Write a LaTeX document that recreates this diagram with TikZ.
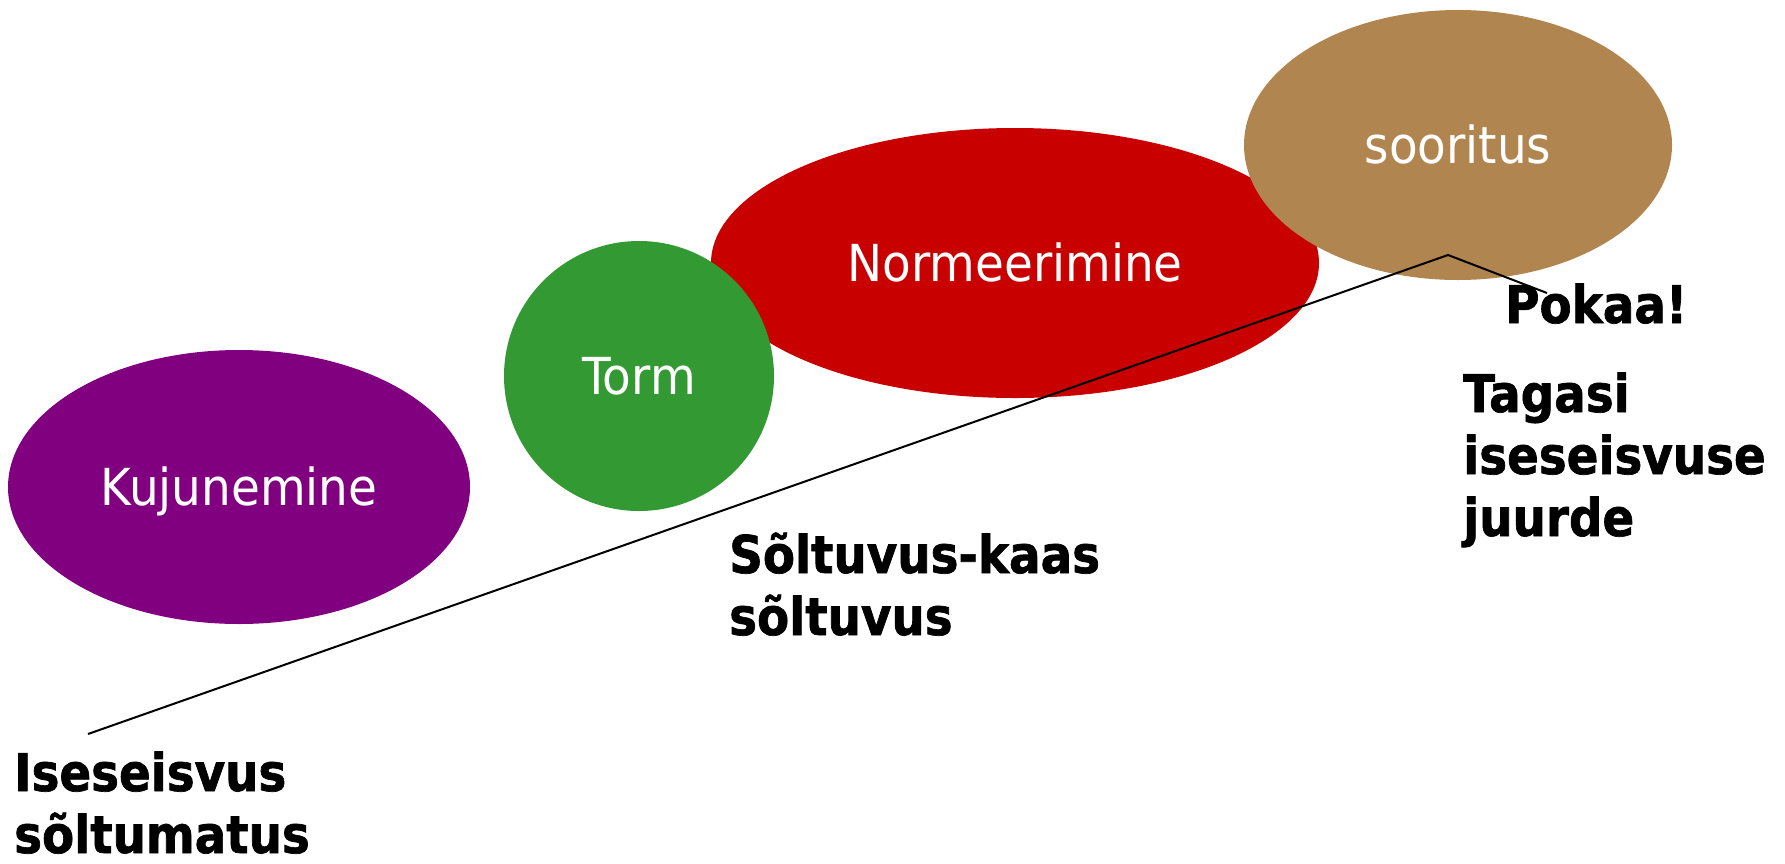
\documentclass[tikz,border=0pt]{standalone}
\usepackage{fontspec}
\usetikzlibrary{shapes.geometric}
\newfontfamily\blobfont[FakeStretch=0.92]{DejaVu Sans}
\newfontfamily\lblfont[FakeStretch=0.9, BoldFeatures={FakeBold=1.3}]{DejaVu Sans}
\definecolor{cpurple}{HTML}{800080}
\definecolor{cgreen}{HTML}{339933}
\definecolor{cred}{HTML}{C80000}
\definecolor{ctan}{HTML}{B08550}
\newcommand{\stacklines}[1]{\vtop{#1}}
\tikzset{
  blob/.style={ellipse, inner sep=0pt, text=white,
    font=\blobfont\fontsize{51}{61}\selectfont, text height=37pt, text depth=0pt},
  bold label/.style={anchor=base west, inner sep=0pt, text=black,
    font=\lblfont\bfseries\fontsize{52}{62}\selectfont},
  stage line/.style={draw=black, line width=2pt}
}
\begin{document}
\begin{tikzpicture}[x=1pt,y=-1pt]
\useasboundingbox (0,0) rectangle (1785,863);
\node[blob, fill=cpurple, minimum width=462pt, minimum height=274pt] (kuj) at (239,487) {Kujunemine};
\node[blob, fill=cred, minimum width=608pt, minimum height=270pt] (norm) at (1015,263) {Normeerimine};
\node[blob, fill=cgreen, minimum width=270pt, minimum height=270pt] (torm) at (639,376) {Torm};
\node[blob, fill=ctan, minimum width=428pt, minimum height=270pt] (soor) at (1458,145) {sooritus};
\coordinate (start) at (88,734);
\coordinate (apex) at (1448,255);
\coordinate (finish) at (1547,293);
\draw[stage line] (start) -- (apex) -- (finish);
\node[bold label] (pokaa) at (1505,323) {Pokaa!};
\node[bold label] (tagasi) at (1463,412) {\stacklines{\hbox{Tagasi}\hbox{iseseisvuse}\hbox{juurde}}};
\node[bold label] (soltuvus) at (729,573) {\stacklines{\hbox{Sõltuvus-kaas}\hbox{sõltuvus}}};
\node[bold label] (iseseisvus) at (14,791) {\stacklines{\hbox{Iseseisvus}\hbox{sõltumatus}}};
\end{tikzpicture}
\end{document}
